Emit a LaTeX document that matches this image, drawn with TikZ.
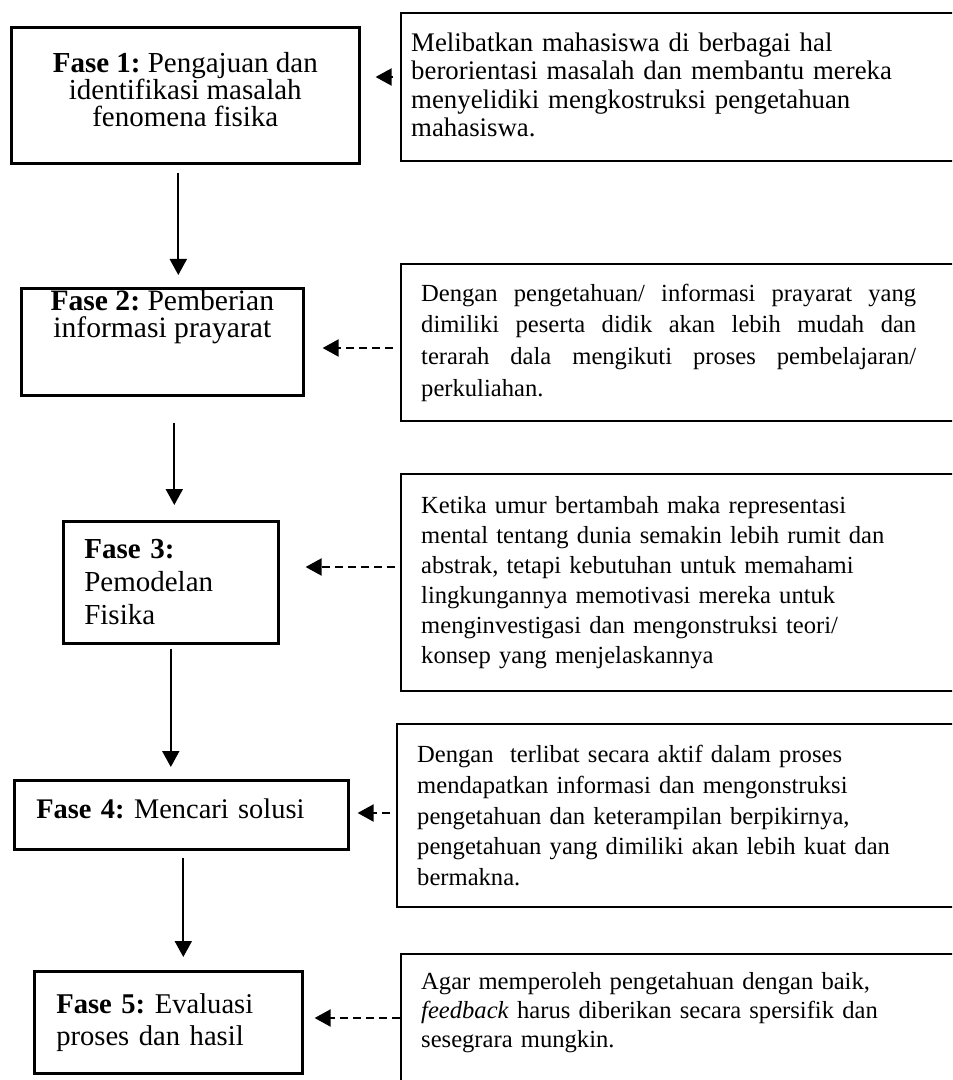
\documentclass[tikz,border=0pt]{standalone}
\usepackage{fontspec}
\setmainfont{Liberation Serif}
\usetikzlibrary{arrows.meta}
\frenchspacing

\begin{document}
\begin{tikzpicture}[x=0.5pt, y=-0.5pt]
        \tikzset{phase/.style={draw, line width=1.3pt, anchor=north west, inner sep=0pt, font=\fontsize{14.5}{13.5}\selectfont}}
        \tikzset{note/.style={draw, line width=1.2pt, anchor=north west, inner xsep=10pt, inner ysep=0pt, text width=280pt, align=left, font=\fontsize{12.3}{15}\selectfont}}
        \tikzset{flow/.style={line width=1pt, -{Triangle[length=8pt, width=8.5pt]}}}
        \tikzset{hint/.style={flow, dash pattern=on 4pt off 2.5pt}}

        \useasboundingbox (0,0) rectangle (952,1080);
        \clip (0,0) rectangle (952,1080);

        \node[phase, minimum width=174pt, minimum height=68pt, align=center, text depth=6pt] (p1) at (10,26) {\textbf{Fase 1:} Pengajuan dan\\identifikasi masalah\\fenomena fisika};
        \node[phase, minimum width=141pt, minimum height=53.5pt, align=center, text depth=28pt, font=\fontsize{14.8}{13.5}\selectfont] (p2) at (20,287) {\textbf{Fase 2:} Pemberian\\informasi prayarat};
        \node[phase, minimum width=107.5pt, minimum height=61pt, inner xsep=10.5pt, text width=86.5pt, align=left, font=\fontsize{14.5}{16.5}\selectfont] (p3) at (62,520) {\textbf{Fase 3:}\\Pemodelan\\Fisika};
        \node[phase, minimum width=167pt, minimum height=34.5pt, inner xsep=11pt, text width=145pt, align=left, text depth=6.5pt, font=\fontsize{14.2}{13.5}\selectfont] (p4) at (13,779) {\textbf{Fase 4:} Mencari solusi};
        \node[phase, minimum width=134pt, minimum height=51pt, inner xsep=11pt, text width=112pt, align=left, font=\fontsize{14.3}{16}\selectfont] (p5) at (33,970) {\textbf{Fase 5:} Evaluasi\\proses dan hasil};

        \node[note, inner xsep=5pt, text width=290pt, minimum height=74pt, text depth=45pt, font=\fontsize{13.4}{14.2}\selectfont] (n1) at (400,12) {Melibatkan mahasiswa di berbagai hal\\berorientasi masalah dan membantu mereka\\menyelidiki mengkostruksi pengetahuan\\mahasiswa.};
        \node[note, minimum height=78.5pt, align=justify, font=\fontsize{12.3}{15.8}\selectfont] (n2) at (400,263) {\rightskip=32.5pt Dengan pengetahuan/ informasi prayarat yang\linebreak dimiliki peserta didik akan lebih mudah dan\linebreak terarah dala mengikuti proses pembelajaran/\linebreak perkuliahan.\par};
        \node[note, minimum height=108.5pt] (n3) at (400,473) {Ketika umur bertambah maka representasi\\mental tentang dunia semakin lebih rumit dan\\abstrak, tetapi kebutuhan untuk memahami\\lingkungannya memotivasi mereka untuk\\menginvestigasi dan mengonstruksi teori/\\konsep yang menjelaskannya};
        \node[note, minimum height=91.5pt, font=\fontsize{12.3}{15.3}\selectfont] (n4) at (396,723) {Dengan\ \ terlibat secara aktif dalam proses\\mendapatkan informasi dan mengonstruksi\\pengetahuan dan keterampilan berpikirnya,\\pengetahuan yang dimiliki akan lebih kuat dan\\bermakna.};
        \node[note, inner ysep=9pt, text depth=60pt, font=\fontsize{12.3}{14.5}\selectfont] (n5) at (400,953) {Agar memperoleh pengetahuan dengan baik,\\\emph{feedback} harus diberikan secara spersifik dan\\sesegrara mungkin.};

        \draw[flow, shorten <=4pt, shorten >=6pt] ([xshift=-3.5pt]p1.south) -- ([xshift=-3.5pt]p1.south |- p2.north);
        \draw[flow, shorten <=13pt, shorten >=7.5pt] ([xshift=6pt]p2.south) -- ([xshift=6pt]p2.south |- p3.north);
        \draw[flow, shorten <=2pt, shorten >=6pt] (p3.south) -- (p3.south |- p4.north);
        \draw[flow, shorten <=3.5pt, shorten >=6.5pt] ([xshift=1pt]p4.south) -- ([xshift=1pt]p4.south |- p5.north);

        \draw[flow, shorten <=3.5pt, shorten >=7.5pt] (n1.west |- 0,77) -- (p1.east |- 0,77);
        \draw[hint, shorten <=3.5pt, shorten >=9pt] (n2.west |- 0,348) -- (p2.east |- 0,348);
        \draw[hint, shorten <=2.5pt, shorten >=13pt] (n3.west |- 0,567) -- (p3.east |- 0,567);
        \draw[hint, shorten <=3pt, shorten >=4pt] (n4.west |- 0,813) -- (p4.east |- 0,813);
        \draw[hint, shorten <=0pt, shorten >=5.5pt] (n5.west |- 0,1018) -- (p5.east |- 0,1018);
    \end{tikzpicture}
\end{document}
